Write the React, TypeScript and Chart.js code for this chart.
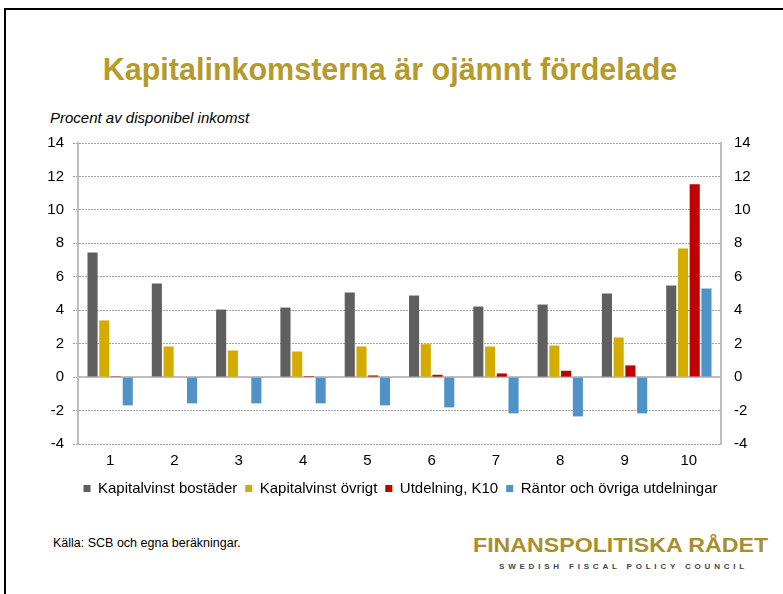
import React, { useEffect, useRef } from "react";
import { Chart, registerables } from "chart.js";

Chart.register(...registerables);

const categories = ["1", "2", "3", "4", "5", "6", "7", "8", "9", "10"];
const kapitalvinstBostader = [7.45, 5.6, 4.04, 4.16, 5.06, 4.88, 4.22, 4.34, 5.0, 5.48];
const kapitalvinstOvrigt = [3.39, 1.83, 1.59, 1.53, 1.83, 1.97, 1.83, 1.89, 2.37, 7.69];
const utdelningK10 = [0.05, 0.03, 0.03, 0.06, 0.1, 0.14, 0.22, 0.38, 0.7, 11.53];
const rantorOvriga = [-1.69, -1.57, -1.57, -1.57, -1.69, -1.81, -2.17, -2.35, -2.17, 5.3];
const seriesNames = [
  "Kapitalvinst bostäder",
  "Kapitalvinst övrigt",
  "Utdelning, K10",
  "Räntor och övriga utdelningar",
];
const seriesColors = ["#5F5F5F", "#D4AC00", "#C00000", "#4F92C8"];
const yMin = -4;
const yMax = 14;
const yStep = 2;

const titleText = "Kapitalinkomsterna är ojämnt fördelade";
const subtitleText = "Procent av disponibel inkomst";
const sourceText = "Källa: SCB och egna beräkningar.";
const logoText = "FINANSPOLITISKA RÅDET";
const logoSubText = "SWEDISH FISCAL POLICY COUNCIL";

const FONT = "'Liberation Sans', Arial, Helvetica, sans-serif";

const zeroLinePlugin = {
  id: "zeroLine",
  beforeDatasetsDraw(chart: any) {
    const { ctx, chartArea } = chart;
    const y = chart.scales.y.getPixelForValue(0);
    ctx.save();
    ctx.strokeStyle = "#BEBEBE";
    ctx.lineWidth = 2;
    ctx.setLineDash([]);
    ctx.beginPath();
    ctx.moveTo(chartArea.left, Math.round(y));
    ctx.lineTo(chartArea.right, Math.round(y));
    ctx.stroke();
    ctx.restore();
  },
};

function ChartCanvas() {
  const ref = useRef<HTMLCanvasElement | null>(null);
  useEffect(() => {
    if (!ref.current) return;
    const seriesData = [kapitalvinstBostader, kapitalvinstOvrigt, utdelningK10, rantorOvriga];
    const chart = new Chart(ref.current, {
      type: "bar",
      data: {
        labels: categories,
        datasets: seriesNames.map((name, i) => ({
          label: name,
          data: seriesData[i],
          backgroundColor: seriesColors[i],
          borderWidth: 0,
          barPercentage: 0.86,
          categoryPercentage: 0.73,
          yAxisID: "y",
        })),
      },
      options: {
        responsive: false,
        animation: false,
        events: [],
        layout: { padding: { top: 13, left: 0, right: 0, bottom: 0 } },
        plugins: {
          title: { display: false },
          tooltip: { enabled: false },
          legend: {
            display: true,
            position: "bottom",
            align: "center",
            labels: {
              boxWidth: 7,
              boxHeight: 7,
              padding: 8,
              color: "#000000",
              font: { family: FONT, size: 15 },
            },
          },
        },
        scales: {
          x: {
            grid: { display: false, drawTicks: false },
            border: { display: false },
            ticks: { color: "#000000", padding: 8, font: { family: FONT, size: 15 } },
            afterFit: (s: any) => {
              s.height = 29;
            },
          },
          y: {
            position: "left",
            min: yMin,
            max: yMax,
            ticks: { stepSize: yStep, color: "#000000", padding: 9, font: { family: FONT, size: 15 } },
            grid: {
              color: "#A3A3A3",
              lineWidth: 1,
              drawTicks: true,
              tickLength: 5,
              tickColor: "#A3A3A3",
              tickBorderDash: [2, 1],
            },
            border: { display: true, color: "#BEBEBE", width: 2, dash: [2, 1] },
            afterFit: (s: any) => {
              s.width = 60;
            },
          },
          y2: {
            position: "right",
            min: yMin,
            max: yMax,
            ticks: { stepSize: yStep, color: "#000000", padding: 13, font: { family: FONT, size: 15 } },
            grid: { drawOnChartArea: false, drawTicks: false },
            border: { display: true, color: "#BEBEBE", width: 2 },
            afterFit: (s: any) => {
              s.width = 62;
            },
          },
        },
      },
      plugins: [zeroLinePlugin],
    } as any);
    return () => chart.destroy();
  }, []);
  return (
    <canvas
      ref={ref}
      width={765}
      height={385}
      style={{ position: "absolute", left: 18, top: 121, width: 765, height: 385 }}
    />
  );
}

function Txt(props: { text: string; style: React.CSSProperties }) {
  return (
    <div style={{ position: "absolute", whiteSpace: "nowrap", fontFamily: FONT, ...props.style }}>
      {props.text}
    </div>
  );
}

export default function App() {
  return (
    <div
      style={{
        position: "fixed",
        left: 0,
        top: 0,
        width: 783,
        height: 594,
        overflow: "hidden",
        background: "#FFFFFF",
      }}
    >
      <div
        style={{
          position: "absolute",
          left: 4,
          top: 8,
          width: 900,
          height: 800,
          borderTop: "2px solid #000",
          borderLeft: "2px solid #000",
          boxSizing: "border-box",
        }}
      />
      <Txt
        text={titleText}
        style={{
          left: 0,
          width: 780,
          textAlign: "center",
          top: 51,
          fontSize: 30.5,
          lineHeight: "36px",
          fontWeight: "bold",
          color: "#B59A2D",
        }}
      />
      <Txt
        text={subtitleText}
        style={{ left: 50, top: 108.5, fontSize: 15, lineHeight: "18px", fontStyle: "italic", color: "#000" }}
      />
      <ChartCanvas />
      <Txt
        text={sourceText}
        style={{ left: 53, top: 536, fontSize: 12.5, lineHeight: "15px", color: "#000" }}
      />
      <Txt
        text={logoText}
        style={{
          left: 473,
          top: 533,
          fontSize: 20.5,
          lineHeight: "24px",
          fontWeight: "bold",
          transform: "scaleX(1.13)",
          transformOrigin: "left center",
          color: "#A88F2C",
        }}
      />
      <Txt
        text={logoSubText}
        style={{
          left: 499,
          top: 562,
          fontSize: 8,
          lineHeight: "10px",
          fontWeight: "bold",
          letterSpacing: "3.8px",
          color: "#444444",
        }}
      />
    </div>
  );
}
